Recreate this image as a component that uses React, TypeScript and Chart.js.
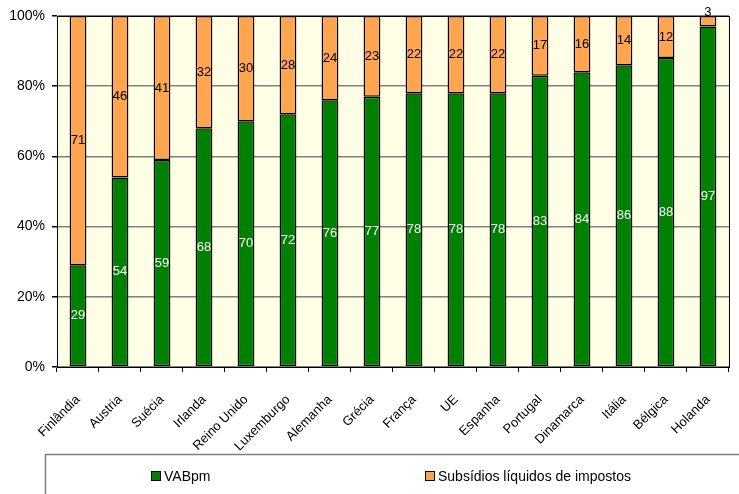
import React, { useEffect, useRef } from 'react';
import { Chart, registerables } from 'chart.js';

Chart.register(...registerables);

const categories = ['Finlândia', 'Austria', 'Suécia', 'Irlanda', 'Reino Unido', 'Luxemburgo', 'Alemanha', 'Grécia', 'França', 'UE', 'Espanha', 'Portugal', 'Dinamarca', 'Itália', 'Bélgica', 'Holanda'];
const vabpm = [29, 54, 59, 68, 70, 72, 76, 77, 78, 78, 78, 83, 84, 86, 88, 97];
const subsidios = [71, 46, 41, 32, 30, 28, 24, 23, 22, 22, 22, 17, 16, 14, 12, 3];
const seriesNames = ['VABpm', 'Subsídios líquidos de impostos'];
const seriesColors = ['#008000', '#FFA54F'];
const labelColors = ['#FFFFFF', '#000000'];
const yMin = 0;
const yMax = 100;
const yStep = 20;

const FONT = '"Liberation Sans", Arial, sans-serif';

const bgPlugin = {
  id: 'bgPlugin',
  beforeDraw(chart: any) {
    const { ctx, chartArea: a } = chart;
    ctx.save();
    ctx.fillStyle = '#FFFFE5';
    ctx.fillRect(a.left, a.top, a.right - a.left, a.bottom - a.top);
    ctx.restore();
  },
};

const borderPlugin = {
  id: 'borderPlugin',
  afterDatasetsDraw(chart: any) {
    const { ctx, chartArea: a } = chart;
    ctx.save();
    ctx.strokeStyle = '#000';
    ctx.lineWidth = 1;
    ctx.strokeRect(a.left + 0.5, a.top + 0.5, a.right - a.left, a.bottom - a.top);
    ctx.restore();
  },
};

const valueLabelPlugin = {
  id: 'valueLabelPlugin',
  afterDatasetsDraw(chart: any) {
    const { ctx } = chart;
    ctx.save();
    ctx.font = `13px ${FONT}`;
    ctx.textAlign = 'center';
    ctx.textBaseline = 'middle';
    chart.data.datasets.forEach((ds: any, di: number) => {
      const meta = chart.getDatasetMeta(di);
      meta.data.forEach((el: any, i: number) => {
        const top = Math.min(el.y, el.base);
        const bottom = Math.max(el.y, el.base);
        const h = bottom - top;
        let y = (top + bottom) / 2;
        let color = labelColors[di];
        if (h < 14) {
          y = top - 4;
          color = '#000';
        }
        ctx.fillStyle = color;
        ctx.fillText(String(ds.data[i]), el.x, y);
      });
    });
    ctx.restore();
  },
};

const boxLegendPlugin = {
  id: 'boxLegendPlugin',
  afterDraw(chart: any) {
    const { ctx, width, height } = chart;
    const boxLeft = 45;
    const boxTop = 454;
    ctx.save();
    ctx.strokeStyle = '#808080';
    ctx.lineWidth = 1.5;
    ctx.strokeRect(boxLeft + 0.5, boxTop + 0.5, width + 20, height);
    const itemX = [151, 425];
    const cy = 476;
    ctx.font = `14px ${FONT}`;
    ctx.textBaseline = 'middle';
    ctx.textAlign = 'left';
    chart.data.datasets.forEach((ds: any, di: number) => {
      const x = itemX[di];
      ctx.fillStyle = ds.backgroundColor;
      ctx.fillRect(x, cy - 5, 10, 10);
      ctx.strokeStyle = '#000';
      ctx.lineWidth = 1;
      ctx.strokeRect(x + 0.5, cy - 5 + 0.5, 9, 9);
      ctx.fillStyle = '#000';
      ctx.fillText(ds.label, x + 13, cy + 1);
    });
    ctx.restore();
  },
};

export default function App() {
  const ref = useRef<HTMLCanvasElement | null>(null);

  useEffect(() => {
    if (!ref.current) return;
    const chart = new Chart(ref.current, {
      type: 'bar',
      data: {
        labels: categories,
        datasets: [
          {
            label: seriesNames[0],
            data: vabpm,
            backgroundColor: seriesColors[0],
            borderColor: '#000',
            borderWidth: 1.5,
            borderSkipped: false,
            categoryPercentage: 1,
            barPercentage: 0.4,
          },
          {
            label: seriesNames[1],
            data: subsidios,
            backgroundColor: seriesColors[1],
            borderColor: '#000',
            borderWidth: 1.5,
            borderSkipped: false,
            categoryPercentage: 1,
            barPercentage: 0.4,
          },
        ],
      },
      options: {
        responsive: false,
        animation: false,
        devicePixelRatio: 1,
        layout: { padding: { top: 16, left: 0, right: 0, bottom: 40 } },
        plugins: {
          legend: { display: false },
          tooltip: { enabled: false },
        },
        scales: {
          x: {
            stacked: true,
            offset: true,
            grid: {
              display: true,
              offset: true,
              drawOnChartArea: false,
              drawTicks: true,
              tickLength: 5,
              tickColor: '#000',
              color: '#000',
            },
            border: { display: true, color: '#000' },
            ticks: {
              autoSkip: false,
              maxRotation: 45,
              minRotation: 45,
              padding: 20,
              color: '#000',
              font: { family: FONT, size: 13 },
            },
            afterFit(scale: any) {
              scale.height = 87;
            },
          },
          y: {
            stacked: true,
            min: yMin,
            max: yMax,
            grid: {
              color: '#808080',
              lineWidth: 1.5,
              tickLength: 5,
              tickColor: '#000',
            },
            border: { display: true, color: '#000' },
            ticks: {
              stepSize: yStep,
              padding: 7,
              color: '#000',
              font: { family: FONT, size: 14 },
              callback: (v: any) => `${v}%`,
            },
            afterFit(scale: any) {
              scale.width = 57;
            },
          },
        },
      },
      plugins: [bgPlugin, borderPlugin, valueLabelPlugin, boxLegendPlugin],
    });
    return () => chart.destroy();
  }, []);

  return (
    <div style={{ position: 'absolute', left: 0, top: 0, width: 739, height: 494, background: '#fff' }}>
      <canvas ref={ref} width={739} height={494} />
    </div>
  );
}
